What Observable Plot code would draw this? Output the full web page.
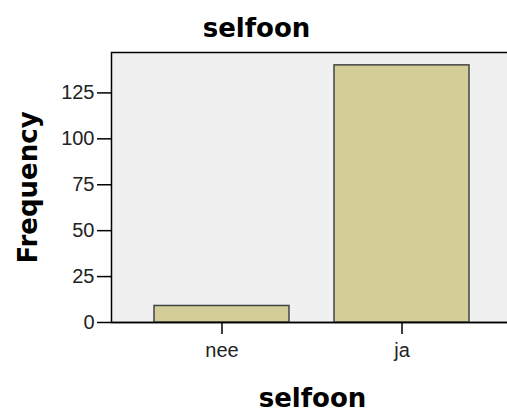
<!DOCTYPE html>
<html>
<head>
<meta charset="utf-8">
<script src="https://cdn.jsdelivr.net/npm/d3@7"></script>
<script src="https://cdn.jsdelivr.net/npm/@observablehq/plot@0.6"></script>
<style>
html, body { margin: 0; padding: 0; overflow: hidden; background: #fff; }
#chart { width: 507px; height: 412px; overflow: hidden; }
#chart svg { max-width: none !important; }
</style>
</head>
<body>
<div id="chart"></div>
<script>
const categories = ["nee", "ja"];
const frequencies = [9, 140];
const yTicks = [0, 25, 50, 75, 100, 125];
const chartTitle = "selfoon";
const xTitle = "selfoon";
const yTitle = "Frequency";

const data = categories.map((c, i) => ({category: c, frequency: frequencies[i]}));

const titleFont = {fontFamily: "DejaVu Sans", fontWeight: "bold", fontSize: 26, fill: "#000", textAnchor: "middle", lineAnchor: "middle"};

const chart = Plot.plot({
  width: 513,
  height: 412,
  marginLeft: 111,
  marginRight: 0,
  marginTop: 52,
  marginBottom: 90,
  style: {fontFamily: "Liberation Sans, Arial, sans-serif", fontSize: "20px", color: "#222", background: "#fff", overflow: "visible", maxWidth: "none"},
  x: {domain: categories, paddingInner: 0.249, paddingOuter: 0.236, label: null},
  y: {domain: [0, 147], label: null},
  marks: [
    Plot.frame({fill: "#f0f0f0", stroke: "#000", strokeWidth: 1.5}),
    Plot.barY(data, {x: "category", y: "frequency", fill: "#d3ce97", stroke: "#444", strokeWidth: 1.5}),
    Plot.axisY({ticks: yTicks, tickSize: 14, tickPadding: 3, stroke: "#000", strokeWidth: 1.5, label: null, fill: "#222"}),
    Plot.axisX({tickSize: 12, tickPadding: 8, stroke: "#000", strokeWidth: 1.5, label: null, fill: "#222"}),
    Plot.ruleY([0], {stroke: "#000", strokeWidth: 1.5}),
    Plot.text([chartTitle], {frameAnchor: "top", dx: -56, dy: -24, text: d => d, ...titleFont}),
    Plot.text([xTitle], {frameAnchor: "bottom", dy: 76, text: d => d, ...titleFont}),
    Plot.text([yTitle], {frameAnchor: "left", dx: -83, rotate: -90, text: d => d, ...titleFont})
  ]
});
document.getElementById("chart").appendChild(chart);
</script>
</body>
</html>
